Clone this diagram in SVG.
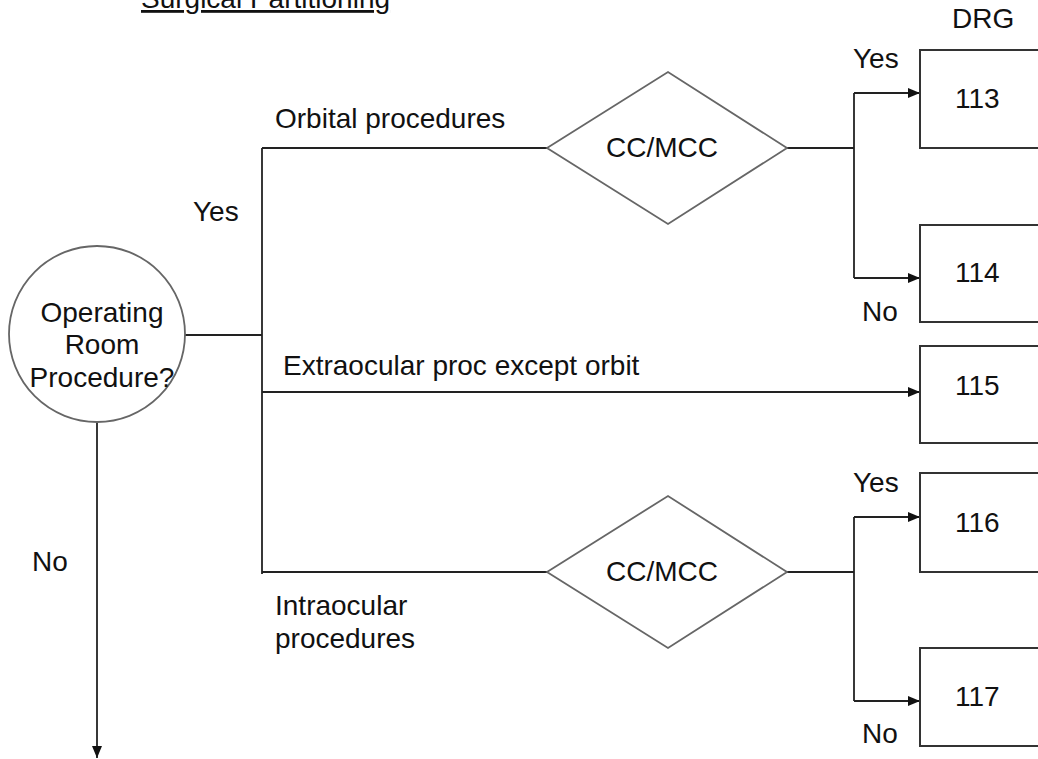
<svg xmlns="http://www.w3.org/2000/svg" width="1038" height="759" viewBox="0 0 1038 759">
  <defs>
    <marker id="arrow" markerWidth="12" markerHeight="10" refX="12" refY="5" orient="auto" markerUnits="userSpaceOnUse">
      <path d="M0,0 L12,5 L0,10 Z" fill="#111"/>
    </marker>
    <style>
      text { font-family: "Liberation Sans", Arial, sans-serif; font-size: 28px; fill: #111; }
      .shape { fill: #fff; stroke: #666; stroke-width: 1.8; }
      .box { fill: #fff; stroke: #333; stroke-width: 2; }
      .line { fill: none; stroke: #222; stroke-width: 1.8; }
      .mid { text-anchor: middle; }
    </style>
  </defs>
  <rect width="1038" height="759" fill="#fff"/>

  <text x="141" y="8" text-decoration="underline">Surgical Partitioning</text>
  <text x="952" y="28" font-size="26">DRG</text>

  <g id="connectors">
    <path class="line" d="M185,335 H262"/>
    <path class="line" d="M262,148 V574"/>
    <path class="line" d="M262,148 H547"/>
    <path class="line" d="M262,572 H547"/>
    <path class="line" d="M262,392 H920" marker-end="url(#arrow)"/>
    <path class="line" d="M787,148 H854"/>
    <path class="line" d="M854,93 V278"/>
    <path class="line" d="M854,93 H920" marker-end="url(#arrow)"/>
    <path class="line" d="M854,278 H920" marker-end="url(#arrow)"/>
    <path class="line" d="M787,572 H854"/>
    <path class="line" d="M854,517 V701"/>
    <path class="line" d="M854,517 H920" marker-end="url(#arrow)"/>
    <path class="line" d="M854,701 H920" marker-end="url(#arrow)"/>
    <path class="line" d="M97,422 V758" marker-end="url(#arrow)"/>
  </g>

  <g id="labels">
    <text x="275" y="128">Orbital procedures</text>
    <text x="193" y="221">Yes</text>
    <text x="283" y="375">Extraocular proc except orbit</text>
    <text x="275" y="615">Intraocular</text>
    <text x="275" y="648">procedures</text>
    <text x="32" y="571">No</text>
    <text x="853" y="68">Yes</text>
    <text x="862" y="321">No</text>
    <text x="853" y="492">Yes</text>
    <text x="862" y="743">No</text>
  </g>

  <g id="or-procedure">
    <circle class="shape" cx="97" cy="334" r="88"/>
    <text class="mid" x="102" y="322">Operating</text>
    <text class="mid" x="102" y="354">Room</text>
    <text class="mid" x="102" y="387">Procedure?</text>
  </g>

  <g id="cc-mcc-orbital">
    <polygon class="shape" points="547,148 668,72 787,148 668,224"/>
    <text class="mid" x="662" y="157">CC/MCC</text>
  </g>

  <g id="cc-mcc-intraocular">
    <polygon class="shape" points="547,572 668,496 787,572 668,648"/>
    <text class="mid" x="662" y="581">CC/MCC</text>
  </g>

  <g id="drg-113">
    <rect class="box" x="920" y="50" width="130" height="98"/>
    <text x="955" y="108">113</text>
  </g>
  <g id="drg-114">
    <rect class="box" x="920" y="225" width="130" height="97"/>
    <text x="955" y="282">114</text>
  </g>
  <g id="drg-115">
    <rect class="box" x="920" y="346" width="130" height="97"/>
    <text x="955" y="395">115</text>
  </g>
  <g id="drg-116">
    <rect class="box" x="920" y="473" width="130" height="99"/>
    <text x="955" y="532">116</text>
  </g>
  <g id="drg-117">
    <rect class="box" x="920" y="648" width="130" height="98"/>
    <text x="955" y="706">117</text>
  </g>
</svg>
